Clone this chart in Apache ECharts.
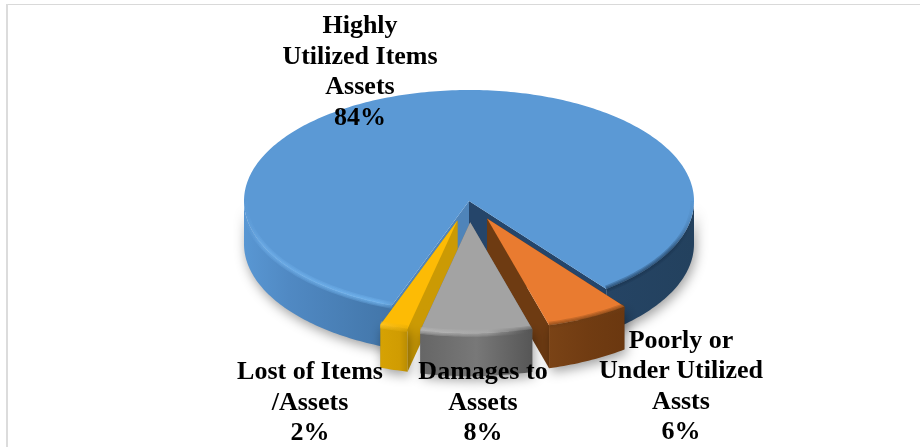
<!DOCTYPE html>
<html>
<head>
<meta charset="utf-8">
<style>html,body{margin:0;padding:0;background:#fff}#chart{width:920px;height:447px}</style>
<script src="https://cdn.jsdelivr.net/npm/echarts@6/dist/echarts.min.js"></script>
</head>
<body>
<div id="chart"></div>
<script>
// Share of assets by condition, clockwise from the large slice.
const categories = ['Highly\nUtilized Items\nAssets', 'Poorly or\nUnder Utilized\nAssts', 'Damages to\nAssets', 'Lost of Items\n/Assets'];
const shares = [84, 6, 8, 2];

// Tilted-pie geometry.
const pie = { cx: 469, cy: 201, rx: 225, ry: 111, depth: 43, startAngle: 200 };
const explode = [0, 40, 43, 41];
const drawRank = [0, 1, 3, 2];
const labelPos = [[360, 11.5], [681, 326], [483, 357.5], [310, 357.5]];

const looks = [
  { top: '#5b99d5',
    wall: [[0, '#5997d3'], [0.1, '#5089c3'], [0.3, '#4478ac'], [0.62, '#27476a'], [1, '#23415e']],
    rim: [[0, 'rgba(116,180,238,0)'], [0.04, 'rgba(116,180,238,0.55)'], [0.3, 'rgba(116,184,242,0.75)'], [0.42, 'rgba(60,110,160,0.4)'], [0.7, 'rgba(24,50,78,0.7)'], [0.95, 'rgba(24,50,78,0.6)'], [1, 'rgba(24,50,78,0)']],
    cutStart: '#25456a', cutEnd: '#4f84b9' },
  { top: '#e97b30',
    wall: [[0, '#7a4316'], [0.5, '#713c12'], [1, '#6b3810']],
    rim: [[0, 'rgba(110,60,20,0.6)'], [1, 'rgba(110,60,20,0.6)']],
    cutStart: '#6e3b12', cutEnd: '#6f3c12' },
  { top: '#a3a3a3',
    wall: [[0, '#666666'], [0.5, '#787878'], [1, '#565656']],
    rim: [[0, 'rgba(184,184,184,0.8)'], [0.6, 'rgba(170,170,170,0.7)'], [1, 'rgba(80,80,80,0.6)']],
    cutStart: '#707070', cutEnd: '#707070' },
  { top: '#fdbb05',
    wall: [[0, '#d6a203'], [0.7, '#d09c02'], [1, '#b98c02']],
    rim: [[0, 'rgba(255,197,38,0.8)'], [1, 'rgba(229,171,4,0.8)']],
    cutStart: '#cb9a04', cutEnd: '#cb9a04' }
];

const rad = d => d * Math.PI / 180;
const at = (c, a, drop) => [
  c[0] + pie.rx * Math.sin(rad(a)),
  c[1] - pie.ry * Math.cos(rad(a)) + (drop || 0)
];
function arc(c, a0, a1, drop) {
  const pts = [];
  const n = Math.max(2, Math.ceil(Math.abs(a1 - a0)));
  for (let i = 0; i <= n; i++) pts.push(at(c, a0 + (a1 - a0) * i / n, drop));
  return pts;
}
const xGrad = (x0, x1, stops) => ({
  type: 'linear', global: true, x: x0, y: 0, x2: x1, y2: 0,
  colorStops: stops.map(s => ({ offset: s[0], color: s[1] }))
});

const total = shares.reduce((a, b) => a + b, 0);
const starts = [];
shares.reduce((acc, v, i) => { starts[i] = acc; return acc + v / total * 360; }, pie.startAngle);

function renderSlice(params, api) {
  const i = params.dataIndex;
  const sweep = api.value(0) / total * 360;
  const a0 = starts[i], a1 = a0 + sweep, mid = (a0 + a1) / 2;
  const look = looks[i];
  const c = [
    pie.cx + explode[i] * Math.sin(rad(mid)),
    pie.cy - explode[i] * (pie.ry / pie.rx) * Math.cos(rad(mid))
  ];
  const base = drawRank[i] * 10;
  const kids = [];

  // Cut faces along both radial edges.
  [[a0, look.cutEnd], [a1, look.cutStart]].forEach(([a, col]) => {
    const o = at(c, a);
    kids.push({ type: 'polygon', z2: base + 1, silent: true,
      shape: { points: [c, o, [o[0], o[1] + pie.depth], [c[0], c[1] + pie.depth]] },
      style: { fill: col } });
  });

  // Outer wall: only the arc spans that face the viewer.
  [[90, 270], [450, 630]].forEach(([lo, hi]) => {
    const s = Math.max(a0, lo), e = Math.min(a1, hi);
    if (e <= s) return;
    const topEdge = arc(c, s, e);
    const lowEdge = arc(c, e, s, pie.depth);
    const xs = topEdge.map(p => p[0]);
    const xMin = i === 0 ? pie.cx - pie.rx : Math.min.apply(null, xs);
    const xMax = i === 0 ? pie.cx + pie.rx : Math.max.apply(null, xs);
    kids.push({ type: 'polygon', z2: base + 2, silent: true,
      shape: { points: topEdge.concat(lowEdge) },
      style: { fill: xGrad(xMin, xMax, look.wall),
        shadowBlur: 12, shadowOffsetY: 4, shadowOffsetX: 2, shadowColor: 'rgba(0,0,0,0.38)' } });
  });

  // Top face.
  kids.push({ type: 'polygon', z2: base + 3, silent: true,
    shape: { points: [c].concat(arc(c, a0, a1)) },
    style: { fill: look.top } });

  // Soft bevel along the front of the top face: stacked strokes feather the edge.
  [[90, 270], [450, 630]].forEach(([lo, hi]) => {
    const s = Math.max(a0, lo), e = Math.min(a1, hi);
    if (e <= s) return;
    const line = arc(c, s, e);
    const xs = line.map(p => p[0]);
    const xMin = i === 0 ? pie.cx - pie.rx : Math.min.apply(null, xs);
    const xMax = i === 0 ? pie.cx + pie.rx : Math.max.apply(null, xs);
    [7, 4.5, 2].forEach((w, k) => {
      kids.push({ type: 'polyline', z2: base + 4 + k, silent: true,
        shape: { points: line },
        style: { fill: null, stroke: xGrad(xMin, xMax, look.rim), lineWidth: w, opacity: 0.45 } });
    });
  });

  // Category name with its share underneath.
  kids.push({ type: 'text', z2: 100, silent: true,
    x: labelPos[i][0], y: labelPos[i][1],
    style: { text: api.value(1) + '\n' + api.value(0) + '%',
      fill: '#000', align: 'center', verticalAlign: 'top',
      font: 'bold 26px "Liberation Serif"', lineHeight: 30.4 } });

  return { type: 'group', children: kids };
}

const chart = echarts.init(document.getElementById('chart'), null, { renderer: 'canvas' });
chart.setOption({
  animation: false,
  backgroundColor: '#ffffff',
  graphic: [
    { type: 'rect', silent: true, shape: { x: 6, y: 4, width: 914, height: 1 }, style: { fill: '#d9d9d9' } },
    { type: 'rect', silent: true, shape: { x: 6, y: 4, width: 2, height: 443 }, style: { fill: '#dcdcdc' } }
  ],
  series: [{
    type: 'custom',
    coordinateSystem: 'none',
    renderItem: renderSlice,
    encode: { value: 0 },
    data: shares.map((v, i) => [v, categories[i]])
  }]
});
</script>
</body>
</html>
